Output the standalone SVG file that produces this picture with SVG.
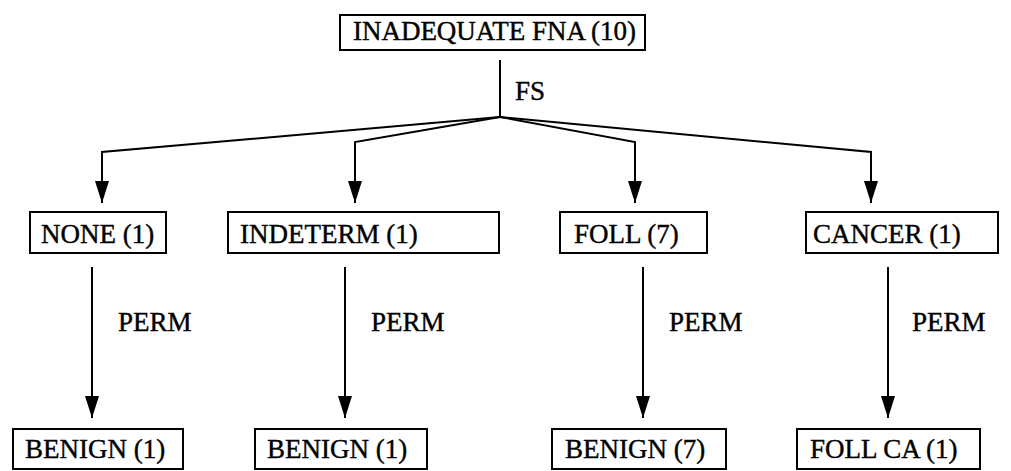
<svg xmlns="http://www.w3.org/2000/svg" width="1011" height="471" viewBox="0 0 1011 471">
  <style>
    .box { fill: #fff; stroke: #000; stroke-width: 2; }
    .lbl { font-family: 'Liberation Serif', 'Times New Roman', Times, serif; font-size: 27px; fill: #000; stroke: #000; stroke-width: 0.4; }
    .edge { fill: none; stroke: #000; stroke-width: 2; }
  </style>
  <defs>
    <marker id="arrow" markerUnits="userSpaceOnUse" markerWidth="22" markerHeight="14" refX="22" refY="7" orient="auto">
      <path d="M0,0 L22,7 L0,14 z" fill="#000"/>
    </marker>
  </defs>
  <rect width="1011" height="471" fill="#fff"/>

  <g id="connectors">
    <!-- stem from root -->
    <line class="edge" x1="500" y1="60" x2="500" y2="117"/>
    <text class="lbl" x="515" y="100" font-family="Liberation Serif, serif">FS</text>
    <!-- fan to second level -->
    <polyline class="edge" points="500,117 102,152 102,203" marker-end="url(#arrow)"/>
    <polyline class="edge" points="500,117 355,142 355,203" marker-end="url(#arrow)"/>
    <polyline class="edge" points="500,117 635,142 635,203" marker-end="url(#arrow)"/>
    <polyline class="edge" points="500,117 871,152 871,203" marker-end="url(#arrow)"/>
    <!-- PERM edges -->
    <line class="edge" x1="92" y1="267" x2="92" y2="418" marker-end="url(#arrow)"/>
    <text class="lbl" x="118" y="331">PERM</text>
    <line class="edge" x1="345" y1="267" x2="345" y2="418" marker-end="url(#arrow)"/>
    <text class="lbl" x="371" y="331">PERM</text>
    <line class="edge" x1="643" y1="267" x2="643" y2="418" marker-end="url(#arrow)"/>
    <text class="lbl" x="669" y="331">PERM</text>
    <line class="edge" x1="888" y1="267" x2="888" y2="418" marker-end="url(#arrow)"/>
    <text class="lbl" x="912" y="331">PERM</text>
  </g>

  <g id="root">
    <rect class="box" x="340" y="15" width="305" height="35"/>
    <text class="lbl" x="353" y="40" textLength="283">INADEQUATE FNA (10)</text>
  </g>

  <g id="none">
    <rect class="box" x="30" y="212" width="136" height="41"/>
    <text class="lbl" x="41" y="243">NONE (1)</text>
  </g>
  <g id="indeterm">
    <rect class="box" x="228" y="212" width="271" height="41"/>
    <text class="lbl" x="240" y="243">INDETERM (1)</text>
  </g>
  <g id="foll">
    <rect class="box" x="560" y="212" width="147" height="41"/>
    <text class="lbl" x="574" y="243">FOLL (7)</text>
  </g>
  <g id="cancer">
    <rect class="box" x="806" y="212" width="192" height="41"/>
    <text class="lbl" x="813" y="243">CANCER (1)</text>
  </g>

  <g id="benign1">
    <rect class="box" x="13" y="429" width="170" height="40"/>
    <text class="lbl" x="25" y="458">BENIGN (1)</text>
  </g>
  <g id="benign2">
    <rect class="box" x="255" y="429" width="172" height="40"/>
    <text class="lbl" x="267" y="458">BENIGN (1)</text>
  </g>
  <g id="benign7">
    <rect class="box" x="552" y="429" width="174" height="40"/>
    <text class="lbl" x="565" y="458">BENIGN (7)</text>
  </g>
  <g id="follca">
    <rect class="box" x="797" y="429" width="183" height="40"/>
    <text class="lbl" x="810" y="458">FOLL CA (1)</text>
  </g>
</svg>
